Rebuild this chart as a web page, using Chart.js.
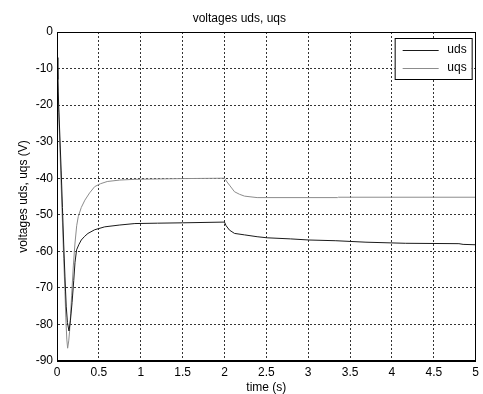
<!DOCTYPE html>
<html>
<head>
<meta charset="utf-8">
<script src="https://cdn.jsdelivr.net/npm/chart.js@4/dist/chart.umd.min.js"></script>
<style>
  html, body { margin: 0; padding: 0; background: #fff; }
  #wrap { width: 483px; height: 394px; }
</style>
</head>
<body>
<div id="wrap"><canvas id="chart" width="483" height="394"></canvas></div>
<script>
// time (s) and voltage (V)
const timeUds = [0, 0.01, 0.02, 0.035, 0.05, 0.065, 0.08, 0.095, 0.11, 0.125, 0.143, 0.16, 0.18, 0.2, 0.215, 0.234, 0.26, 0.29, 0.33, 0.37, 0.45, 0.57, 0.75, 0.93, 1.2, 1.5, 2.0, 2.02, 2.06, 2.12, 2.24, 2.39, 2.51, 2.79, 3.01, 3.33, 3.69, 4.16, 4.8, 4.85, 5.0];
const uds = [-7, -13, -20, -29, -38, -48, -58, -67, -75, -79.5, -81.8, -79, -74, -68, -63, -59.6, -58.2, -56.9, -55.9, -55.1, -54.1, -53.3, -52.8, -52.4, -52.3, -52.2, -52.0, -53.0, -54.2, -55.1, -55.5, -56.0, -56.3, -56.6, -56.9, -57.1, -57.5, -57.8, -57.9, -58.1, -58.2];

const timeUqs = [0, 0.01, 0.02, 0.035, 0.05, 0.065, 0.08, 0.095, 0.105, 0.117, 0.127, 0.14, 0.15, 0.163, 0.175, 0.195, 0.214, 0.235, 0.254, 0.29, 0.333, 0.39, 0.45, 0.52, 0.6, 0.75, 0.93, 1.5, 2.0, 2.03, 2.06, 2.12, 2.18, 2.24, 2.39, 3.35, 3.36, 5.0];
const uqs = [-10, -16, -22, -32, -42, -52, -62, -71, -78, -84, -86.5, -84.5, -82, -77, -72, -64, -58, -53, -50.5, -48, -46, -44, -42.3, -41.5, -40.9, -40.5, -40.3, -40.1, -40.0, -41.0, -41.9, -43.7, -44.4, -44.9, -45.3, -45.3, -45.2, -45.2];

const xTicks = [0, 0.5, 1, 1.5, 2, 2.5, 3, 3.5, 4, 4.5, 5];
const yTicks = [-90, -80, -70, -60, -50, -40, -30, -20, -10, 0];

const seriesNames = ['uds', 'uqs'];
const seriesColors = ['#1a1a1a', '#8c8c8c'];

const font = { family: 'Liberation Sans, Arial, sans-serif', size: 12 };

function toPoints(xs, ys) {
  return xs.map((x, i) => ({ x: x, y: ys[i] }));
}

// box around the axes plus a MATLAB-like legend in the top right corner
const boxAndLegend = {
  id: 'boxAndLegend',
  afterDraw(chart) {
    const ctx = chart.ctx;
    const a = chart.chartArea;
    ctx.save();
    ctx.strokeStyle = '#000';
    ctx.lineWidth = 1;
    ctx.setLineDash([]);
    ctx.strokeRect(Math.round(a.left) + 0.5, Math.round(a.top) + 0.5,
      Math.round(a.right - a.left) - 1, Math.round(a.bottom - a.top) - 1);

    const lx = a.right - 81, ly = a.top + 6, lw = 77, lh = 41;
    ctx.fillStyle = '#fff';
    ctx.fillRect(lx, ly, lw, lh);
    ctx.strokeRect(lx + 0.5, ly + 0.5, lw, lh);
    ctx.font = '12px ' + font.family;
    ctx.textAlign = 'right';
    ctx.textBaseline = 'middle';
    seriesNames.forEach((name, i) => {
      const y = ly + 11.5 + i * 18.5;
      ctx.strokeStyle = seriesColors[i];
      ctx.beginPath();
      ctx.moveTo(lx + 8, Math.round(y) + 0.5);
      ctx.lineTo(lx + 44, Math.round(y) + 0.5);
      ctx.stroke();
      ctx.fillStyle = '#000';
      ctx.fillText(name, lx + lw - 5, y);
    });
    ctx.restore();
  }
};

new Chart(document.getElementById('chart'), {
  type: 'line',
  data: {
    datasets: [
      { label: seriesNames[0], data: toPoints(timeUds, uds), borderColor: seriesColors[0], borderWidth: 1, pointRadius: 0, tension: 0 },
      { label: seriesNames[1], data: toPoints(timeUqs, uqs), borderColor: seriesColors[1], borderWidth: 1, pointRadius: 0, tension: 0 }
    ]
  },
  options: {
    responsive: false,
    animation: false,
    layout: { padding: { left: 0, right: 4.3, top: 0, bottom: 0 } },
    plugins: {
      legend: { display: false },
      tooltip: { enabled: false },
      title: {
        display: true,
        text: 'voltages uds, uqs',
        color: '#000',
        font: { family: font.family, size: 12, weight: 'normal' },
        padding: { top: 11, bottom: 6.6 }
      }
    },
    scales: {
      x: {
        type: 'linear',
        min: 0,
        max: 5,
        afterBuildTicks: s => { s.ticks = xTicks.map(v => ({ value: v })); },
        afterFit: s => { s.height = 33; },
        ticks: { color: '#000', font: font, padding: 4, maxRotation: 0, callback: v => String(v) },
        grid: { color: '#333', drawTicks: false, lineWidth: 1 },
        border: { color: '#000', dash: [2, 2] },
        title: { display: true, text: 'time (s)', color: '#000', font: { family: font.family, size: 12, lineHeight: 1.1 }, padding: { top: 0, bottom: 0 } }
      },
      y: {
        type: 'linear',
        min: -90,
        max: 0,
        afterBuildTicks: s => { s.ticks = yTicks.map(v => ({ value: v })); },
        afterFit: s => { s.width = 57; },
        ticks: { color: '#000', font: font, padding: 4, callback: v => String(v) },
        grid: { color: '#333', drawTicks: false, lineWidth: 1 },
        border: { color: '#000', dash: [2, 2] },
        title: { display: true, text: 'voltages uds, uqs (V)', color: '#000', font: { family: font.family, size: 12 }, padding: { top: 16, bottom: 0 } }
      }
    }
  },
  plugins: [boxAndLegend]
});
</script>
</body>
</html>
